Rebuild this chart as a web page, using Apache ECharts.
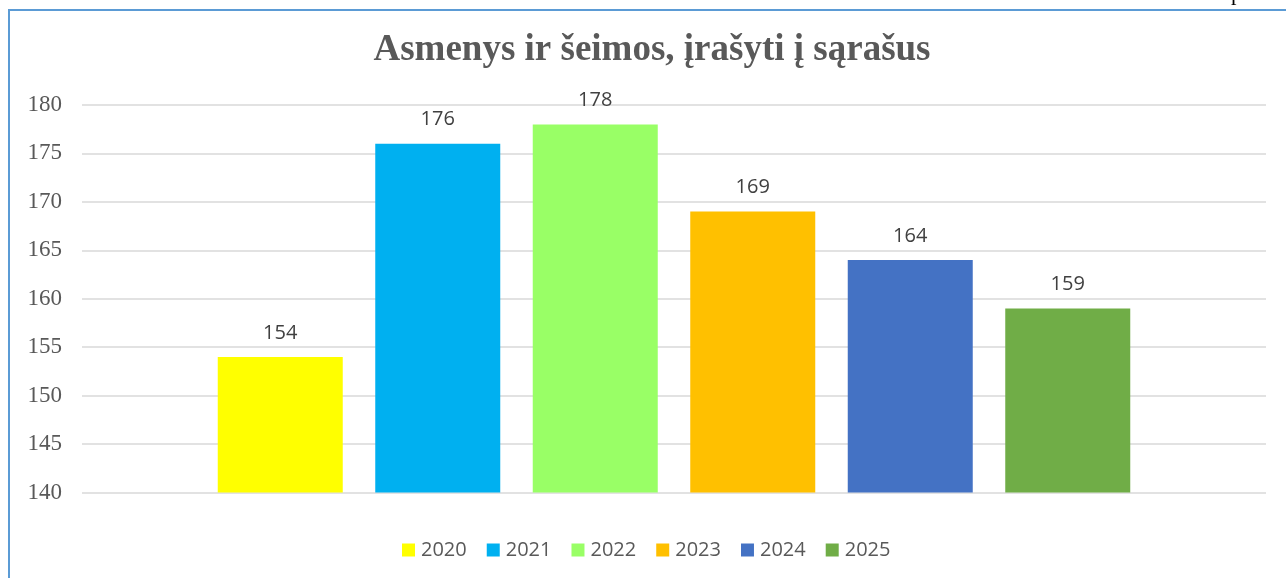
<!DOCTYPE html>
<html>
<head>
<meta charset="utf-8">
<script src="https://cdn.jsdelivr.net/npm/echarts@6/dist/echarts.min.js"></script>
<style>
  html, body { margin: 0; padding: 0; background: #ffffff; }
  #chart { width: 1286px; height: 578px; }
</style>
</head>
<body>
<div id="chart"></div>
<script>
// Persons and families registered on the lists, by year
const years = ['2020', '2021', '2022', '2023', '2024', '2025'];
const counts = [154, 176, 178, 169, 164, 159];
const yearColors = ['#ffff00', '#00b0f0', '#99ff66', '#ffc000', '#4472c4', '#70ad47'];
const titleText = 'Asmenys ir šeimos, įrašyti į sąrašus';

const chart = echarts.init(document.getElementById('chart'), null, { renderer: 'canvas' });

const series = years.map((y, i) => ({
  name: y,
  type: 'bar',
  data: [counts[i]],
  barWidth: 125,
  barGap: '26%',
  itemStyle: { color: yearColors[i] },
  label: {
    show: true,
    position: 'top',
    distance: 14,
    fontFamily: 'Open Sans',
    fontSize: 20,
    color: '#404040'
  }
}));

chart.setOption({
  animation: false,
  backgroundColor: '#ffffff',
  title: {
    text: titleText,
    left: 647,
    top: 27,
    textAlign: 'center',
    textStyle: {
      fontFamily: 'Liberation Serif',
      fontWeight: 'bold',
      fontSize: 37,
      color: '#595959'
    }
  },
  legend: {
    data: years,
    left: 397,
    top: 535,
    icon: 'rect',
    itemWidth: 13,
    itemHeight: 13,
    itemGap: 20,
    textStyle: {
      fontFamily: 'Open Sans',
      fontSize: 20,
      color: '#595959',
      padding: [0, 0, 0, 1]
    }
  },
  grid: { left: 82, right: 20, top: 105, bottom: 85.5 },
  xAxis: {
    type: 'category',
    data: [''],
    axisLine: { show: false },
    axisTick: { show: false },
    axisLabel: { show: false }
  },
  yAxis: {
    type: 'value',
    min: 140,
    max: 180,
    interval: 5,
    axisLine: { show: false },
    axisTick: { show: false },
    axisLabel: {
      fontFamily: 'Liberation Serif',
      fontSize: 23,
      color: '#595959',
      margin: 20
    },
    splitLine: { lineStyle: { color: '#d9d9d9', width: 1.5 } }
  },
  series: series,
  graphic: [
    {
      type: 'rect',
      shape: { x: 9, y: 10, width: 1400, height: 700 },
      style: { fill: 'none', stroke: '#5b9bd5', lineWidth: 2 },
      silent: true
    },
    {
      type: 'text',
      style: {
        x: 1231,
        y: -17,
        text: 'p',
        font: '22px "Liberation Serif"',
        fill: '#000000'
      },
      silent: true
    }
  ]
});
</script>
</body>
</html>
